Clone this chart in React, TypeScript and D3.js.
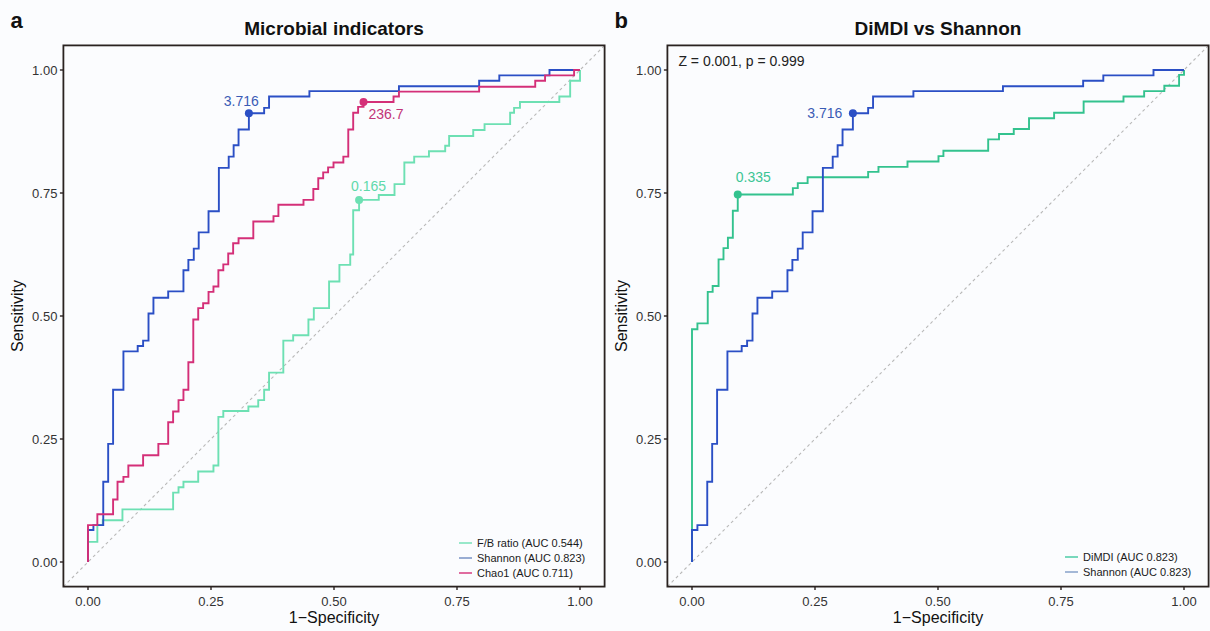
import React from 'react';
import * as d3 from 'd3';

type Pt = [number, number];

// ROC step points: [1-specificity at which sensitivity rises, sensitivity after the rise]
const shannonRoc: Pt[] = [
  [0, 0], [0, 0.065], [0.011, 0.075], [0.031, 0.163], [0.041, 0.240], [0.051, 0.350],
  [0.072, 0.428], [0.101, 0.439], [0.112, 0.450], [0.123, 0.505], [0.133, 0.537],
  [0.163, 0.550], [0.194, 0.593], [0.204, 0.614], [0.215, 0.637], [0.225, 0.670],
  [0.245, 0.713], [0.266, 0.801], [0.286, 0.824], [0.296, 0.847], [0.306, 0.879],
  [0.327, 0.912], [0.358, 0.923], [0.368, 0.946], [0.450, 0.957], [0.632, 0.967],
  [0.795, 0.978], [0.836, 0.989], [0.938, 1.0], [1.0, 1.0],
];

const chao1Roc: Pt[] = [
  [0, 0], [0, 0.075], [0.019, 0.097], [0.051, 0.127], [0.060, 0.163], [0.072, 0.173],
  [0.082, 0.196], [0.112, 0.217], [0.143, 0.240], [0.163, 0.284], [0.173, 0.306],
  [0.184, 0.329], [0.194, 0.350], [0.204, 0.406], [0.214, 0.493], [0.224, 0.516],
  [0.234, 0.526], [0.245, 0.549], [0.255, 0.560], [0.265, 0.593], [0.275, 0.605],
  [0.285, 0.627], [0.295, 0.648], [0.306, 0.658], [0.336, 0.692], [0.377, 0.703],
  [0.387, 0.726], [0.438, 0.736], [0.458, 0.758], [0.468, 0.780], [0.478, 0.792],
  [0.488, 0.802], [0.499, 0.812], [0.519, 0.824], [0.529, 0.879], [0.539, 0.913],
  [0.549, 0.925], [0.560, 0.935], [0.621, 0.946], [0.632, 0.956], [0.795, 0.966],
  [0.909, 0.978], [0.929, 0.989], [0.988, 1.0], [1.0, 1.0],
];

const fbRoc: Pt[] = [
  [0, 0], [0, 0.041], [0.019, 0.075], [0.030, 0.085], [0.070, 0.107], [0.173, 0.141],
  [0.184, 0.152], [0.194, 0.163], [0.224, 0.184], [0.255, 0.196], [0.265, 0.295],
  [0.275, 0.307], [0.326, 0.316], [0.346, 0.329], [0.358, 0.350], [0.368, 0.385],
  [0.397, 0.450], [0.417, 0.461], [0.448, 0.493], [0.459, 0.516], [0.490, 0.570],
  [0.511, 0.604], [0.533, 0.625], [0.539, 0.715], [0.551, 0.736], [0.591, 0.746],
  [0.623, 0.768], [0.643, 0.812], [0.663, 0.824], [0.693, 0.835], [0.726, 0.846],
  [0.734, 0.866], [0.783, 0.878], [0.806, 0.890], [0.858, 0.913], [0.866, 0.923],
  [0.878, 0.935], [0.958, 0.946], [0.980, 0.978], [1.0, 1.0],
];

const dimdiRoc: Pt[] = [
  [0, 0], [0, 0.473], [0.011, 0.485], [0.032, 0.549], [0.042, 0.561], [0.054, 0.615],
  [0.064, 0.638], [0.073, 0.659], [0.083, 0.714], [0.093, 0.747], [0.205, 0.760],
  [0.215, 0.770], [0.235, 0.782], [0.358, 0.793], [0.379, 0.803], [0.438, 0.814],
  [0.501, 0.825], [0.511, 0.836], [0.602, 0.859], [0.624, 0.870], [0.654, 0.880],
  [0.685, 0.902], [0.736, 0.913], [0.796, 0.936], [0.877, 0.946], [0.919, 0.957],
  [0.960, 0.968], [0.990, 0.990], [1.0, 1.0],
];

// best thresholds: [1-specificity, sensitivity]
const shannonThr: Pt = [0.327, 0.912];
const chao1Thr: Pt = [0.560, 0.935];
const fbThr: Pt = [0.551, 0.736];
const dimdiThr: Pt = [0.093, 0.747];
const shannonThrLabel = '3.716';
const chao1ThrLabel = '236.7';
const fbThrLabel = '0.165';
const dimdiThrLabel = '0.335';

const axisTicks = [0, 0.25, 0.5, 0.75, 1];
const axisTickLabels = ['0.00', '0.25', '0.50', '0.75', '1.00'];

const legendA = ['F/B ratio (AUC 0.544)', 'Shannon (AUC 0.823)', 'Chao1 (AUC 0.711)'];
const legendB = ['DiMDI (AUC 0.823)', 'Shannon (AUC 0.823)'];
const testNoteB = 'Z = 0.001, p = 0.999';

const FONT = '"Liberation Sans", Arial, Helvetica, sans-serif';
const C_SHANNON = '#2b4fc5';
const C_CHAO = '#d42f78';
const C_FB = '#6de0b3';
const C_DIMDI = '#33c28e';

interface Series {
  roc: Pt[];
  color: string;
  thr: Pt;
  label: string;
  anchor: 'start' | 'end';
  dx: number;
  dy: number;
  labelColor: string;
}

interface PanelProps {
  x0: number; // pixel of fpr 0
  x1: number; // pixel of fpr 1
  letter: string;
  title: string;
  series: Series[];
  legend: string[];
  legendColors: string[];
  legendX: number;
  legendY: number;
  note?: string;
}

const Y0 = 562;
const Y1 = 70;

function Panel(p: PanelProps) {
  const xs = d3.scaleLinear().domain([0, 1]).range([p.x0, p.x1]);
  const ys = d3.scaleLinear().domain([0, 1]).range([Y0, Y1]);
  const left = xs(-0.05), right = xs(1.05), top = ys(1.05), bottom = ys(-0.05);
  const line = d3.line<Pt>().x(d => xs(d[0])).y(d => ys(d[1])).curve(d3.curveStepAfter);
  const cx = (left + right) / 2;
  return (
    <g>
      <text x={left - 53} y={28} fontFamily={FONT} fontWeight="bold" fontSize={22} fill="#111">{p.letter}</text>
      <text x={cx} y={35} textAnchor="middle" fontFamily={FONT} fontWeight="bold" fontSize={19} fill="#111">{p.title}</text>
      {/* diagonal */}
      <line x1={xs(-0.05)} y1={ys(-0.05)} x2={xs(1.05)} y2={ys(1.05)} stroke="#b9b9b9" strokeWidth={1.1} strokeDasharray="3,3" />
      {p.series.map((s, i) => (
        <path key={i} d={line(s.roc) || ''} fill="none" stroke={s.color} strokeWidth={1.9} />
      ))}
      {p.series.map((s, i) => (
        <g key={'t' + i}>
          <circle cx={xs(s.thr[0])} cy={ys(s.thr[1])} r={4} fill={s.color} />
          <text x={xs(s.thr[0]) + s.dx} y={ys(s.thr[1]) + s.dy} textAnchor={s.anchor} fontFamily={FONT} fontSize={14} fill={s.labelColor}>{s.label}</text>
        </g>
      ))}
      {p.note && (
        <text x={left + 11} y={66} fontFamily={FONT} fontSize={14} fill="#222">{p.note}</text>
      )}
      {/* legend */}
      {p.legend.map((t, i) => (
        <g key={'l' + i}>
          <line x1={p.legendX} x2={p.legendX + 13} y1={p.legendY + i * 15} y2={p.legendY + i * 15} stroke={p.legendColors[i]} strokeWidth={1.4} />
          <text x={p.legendX + 18} y={p.legendY + i * 15} dy="0.35em" fontFamily={FONT} fontSize={11} fill="#1a1a1a">{t}</text>
        </g>
      ))}
      {/* frame */}
      <rect x={left} y={top} width={right - left} height={bottom - top} fill="none" stroke="#2a2220" strokeWidth={1.8} />
      {/* x axis */}
      {axisTicks.map((t, i) => (
        <g key={'x' + i}>
          <line x1={xs(t)} x2={xs(t)} y1={bottom} y2={bottom + 3.5} stroke="#2a2220" strokeWidth={1.4} />
          <text x={xs(t)} y={606} textAnchor="middle" fontFamily={FONT} fontSize={13} fill="#333">{axisTickLabels[i]}</text>
        </g>
      ))}
      {axisTicks.map((t, i) => (
        <g key={'y' + i}>
          <line x1={left} x2={left - 3.5} y1={ys(t)} y2={ys(t)} stroke="#2a2220" strokeWidth={1.4} />
          <text x={left - 6} y={ys(t)} dy="0.36em" textAnchor="end" fontFamily={FONT} fontSize={13} fill="#333">{axisTickLabels[i]}</text>
        </g>
      ))}
      <text x={cx} y={623} textAnchor="middle" fontFamily={FONT} fontSize={16} fill="#111">1−Specificity</text>
      <text transform={`translate(${left - 40},${(top + bottom) / 2}) rotate(-90)`} textAnchor="middle" fontFamily={FONT} fontSize={16} fill="#111">Sensitivity</text>
    </g>
  );
}

export default function App() {
  const seriesA: Series[] = [
    { roc: fbRoc, color: C_FB, thr: fbThr, label: fbThrLabel, anchor: 'start', dx: -8, dy: -9, labelColor: '#5fd9aa' },
    { roc: shannonRoc, color: C_SHANNON, thr: shannonThr, label: shannonThrLabel, anchor: 'end', dx: 10, dy: -7, labelColor: '#3a5bb5' },
    { roc: chao1Roc, color: C_CHAO, thr: chao1Thr, label: chao1ThrLabel, anchor: 'start', dx: 5, dy: 17, labelColor: '#c23479' },
  ];
  const seriesB: Series[] = [
    { roc: dimdiRoc, color: C_DIMDI, thr: dimdiThr, label: dimdiThrLabel, anchor: 'start', dx: -2, dy: -12, labelColor: '#3cc595' },
    { roc: shannonRoc, color: C_SHANNON, thr: shannonThr, label: shannonThrLabel, anchor: 'end', dx: -10.5, dy: 4.5, labelColor: '#3a5bb5' },
  ];
  return (
    <svg width={1210} height={631} style={{ position: 'absolute', left: 0, top: 0, background: '#fbfcfe' }}>
      <Panel x0={88} x1={580} letter="a" title="Microbial indicators" series={seriesA}
        legend={legendA} legendColors={[C_FB, '#6f8cc0', C_CHAO]} legendX={459} legendY={543} />
      <Panel x0={692} x1={1184} letter="b" title="DiMDI vs Shannon" series={seriesB}
        legend={legendB} legendColors={['#3fc9a0', '#7e9bc6']} legendX={1065} legendY={557}
        note={testNoteB} />
    </svg>
  );
}
